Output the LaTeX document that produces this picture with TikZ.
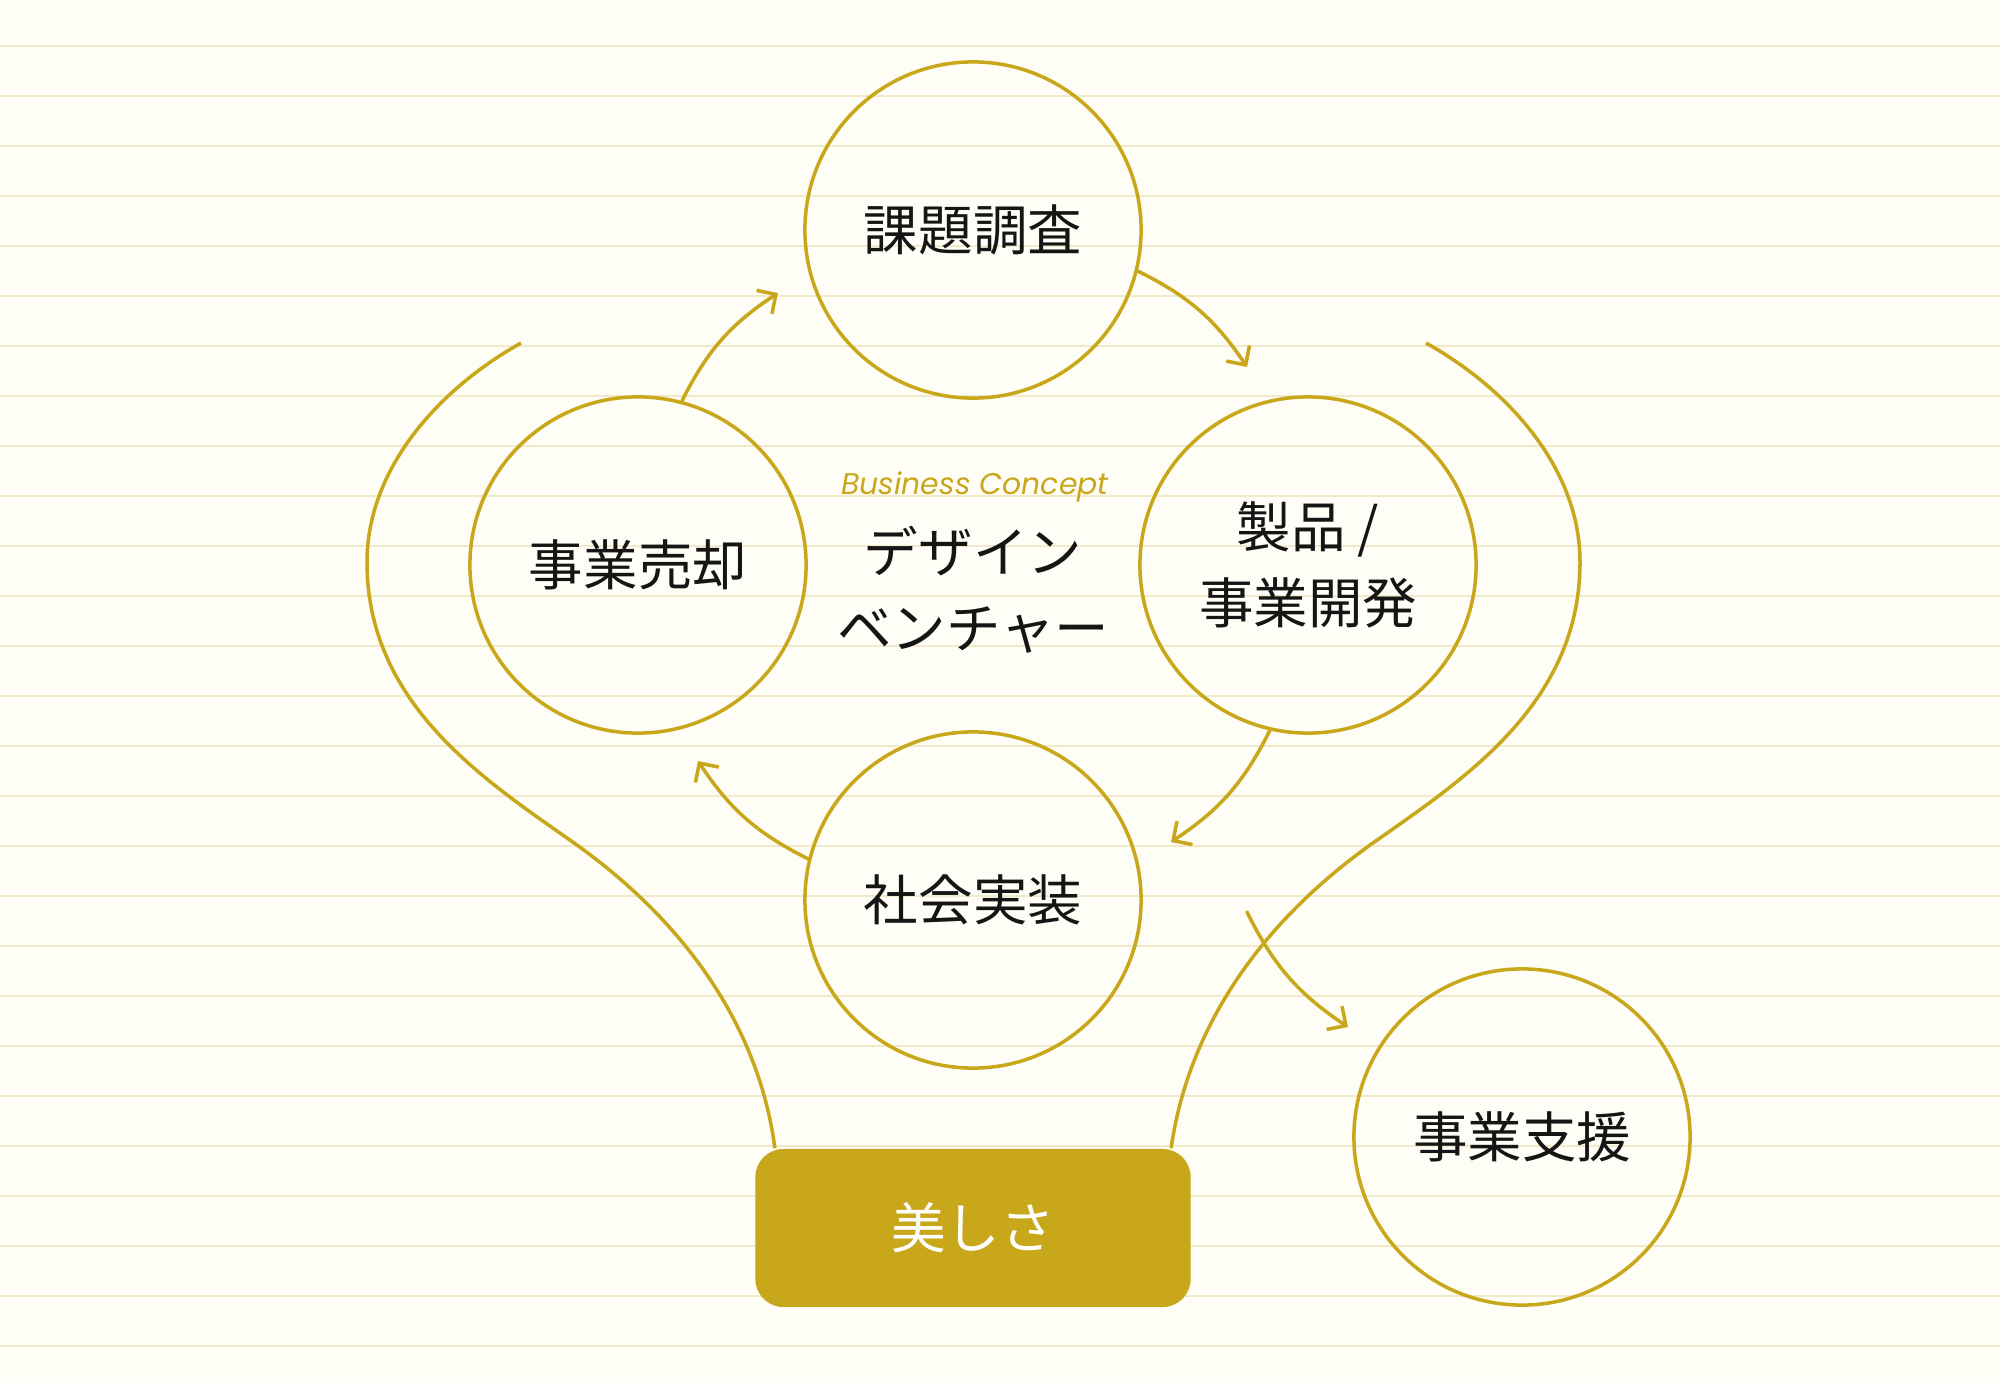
\documentclass[tikz,border=0pt]{standalone}
\usepackage{fontspec}
\usetikzlibrary{arrows.meta,positioning}
\newfontfamily\jpfont{Noto Sans CJK JP}
\newfontfamily\latinfont{Poppins}
\definecolor{paper}{HTML}{FEFDF6}
\definecolor{ruleline}{HTML}{F0EACB}
\definecolor{gold}{HTML}{C9A71A}
\definecolor{ink}{HTML}{151515}

\begin{document}
\begin{tikzpicture}[
  x=0.01cm, y=0.01cm,
  every node/.style={font=\jpfont\fontsize{15.5}{21.5}\selectfont,align=center,text=ink},
  stage/.style={circle,draw=gold,line width=1pt,minimum size=3.36cm,inner sep=0pt},
  ruled/.style={draw=ruleline,line width=0.8pt},
  wing/.style={draw=gold,line width=1pt},
  arr/.style={-{Straight Barb[length=1.4mm,width=2.8mm]},line width=1pt,draw=gold,line cap=round}
]
% paper and ruled lines
\fill[paper] (0,0) rectangle (2000,-1382);
\useasboundingbox (0,0) rectangle (2000,-1382);
\foreach \ly in {46,96,...,1346}
  \draw[ruled] (0,-\ly) -- (2000,-\ly);

\node[stage] (survey) at (973,-230) {課題調査};
\node[stage] (sale) at (638,-565) {事業売却};
\node[stage] (develop) at (1308,-565) {製品 /\\事業開発};
\node[stage] (implement) at (973,-900) {社会実装};
\node[stage] (support) at (1522,-1137) {事業支援};
\node[fill=gold,rounded corners=0.28cm,minimum width=4.35cm,minimum height=1.58cm,text=white] (beauty) at (973,-1228) {美しさ};

\node[font=\latinfont\itshape\fontsize{8.5}{10}\selectfont,text=gold] (title) at (975,-487) {Business Concept};
\node (concept) at (973,-590) {デザイン\\ベンチャー};

% free ends
\coordinate (wingL) at (521,-343);
\coordinate (wingR) at (1426,-343);
\coordinate (toSurvey) at (778,-293);
\coordinate (toDevelop) at (1247,-367);
\coordinate (toImplement) at (1171,-842);
\coordinate (toSale) at (698,-761);
\coordinate (fromCycle) at (1247,-912);
\coordinate (toSupport) at (1348,-1027);

% outer wings into the box
\draw[wing] (wingL) .. controls (437,-390) and (367,-470) .. (367,-562)
  .. controls (367,-700) and (477,-775) .. (567,-838)
  .. controls (707,-935) and (762,-1050) .. ([xshift=-1.98cm]beauty.north);
\draw[wing] (wingR) .. controls (1510,-390) and (1580,-470) .. (1580,-562)
  .. controls (1580,-700) and (1470,-775) .. (1380,-838)
  .. controls (1240,-935) and (1185,-1050) .. ([xshift=1.98cm]beauty.north);

% cycle
\draw[arr] (sale.75) to[bend left=15] (toSurvey);
\draw[arr] (survey.-14) to[bend left=15] (toDevelop);
\draw[arr] (develop.-103) to[bend left=15] (toImplement);
\draw[arr] (implement.166) to[bend left=15] (toSale);
\draw[arr] (fromCycle) to[bend right=15] (toSupport);
\end{tikzpicture}
\end{document}
